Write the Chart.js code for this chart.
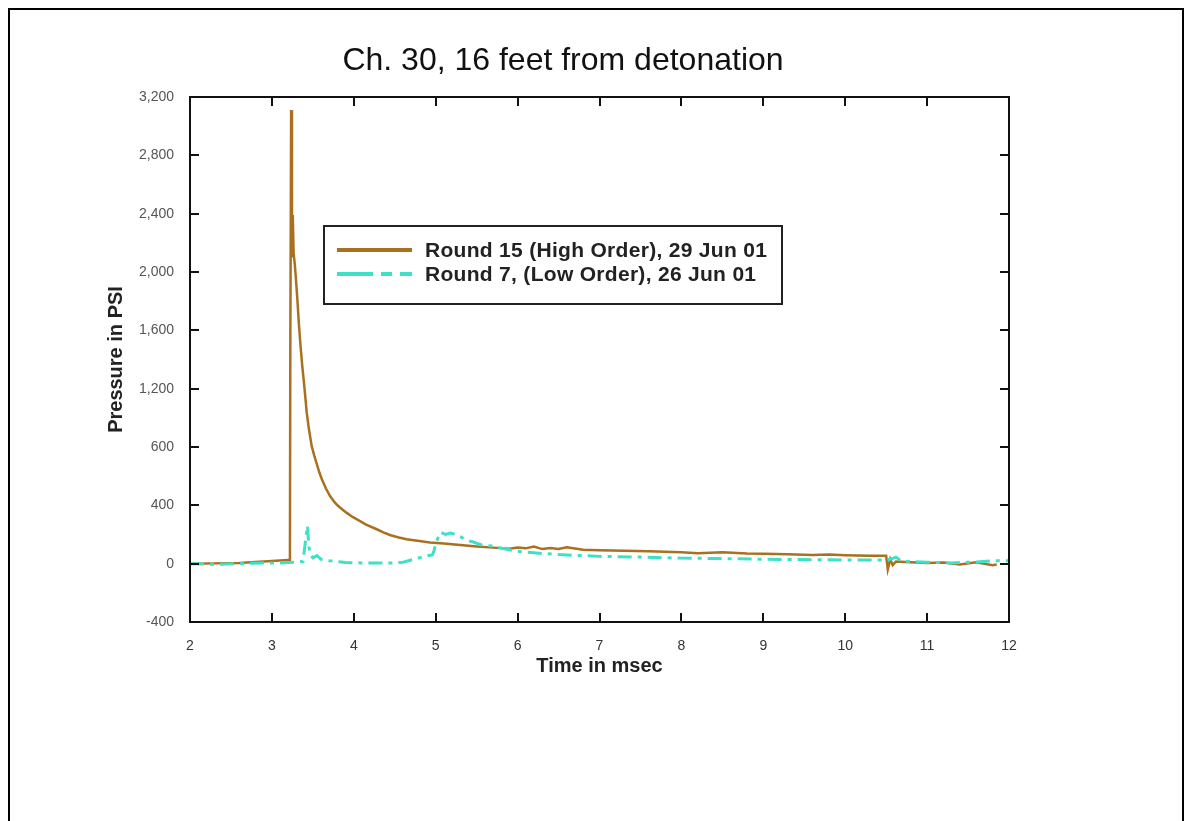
<!DOCTYPE html>
<html lang="en">

<head>
    <meta charset="UTF-8">
    <title>Ch. 30, 16 feet from detonation</title>
    <style>
        body { margin: 0; background: #fff; font-family: "Liberation Sans", Arial, sans-serif; }
        #page { position: relative; width: 1203px; height: 821px; overflow: hidden; }
        #frame { position: absolute; left: 8px; top: 8px; width: 1172px; height: 830px; border: 2px solid #000; border-bottom: none; }
        #title { position: absolute; left: 263px; width: 600px; top: 41px; text-align: center; font-size: 32px; color: #111; }
        #legend { position: absolute; left: 323px; top: 225px; width: 456px; height: 76px; border: 2px solid #222; background: #fff; }
        .row { position: absolute; left: 12px; height: 22px; font-size: 21px; font-weight: bold; color: #222; letter-spacing: 0.3px; }
        .row span.txt { position: absolute; left: 88px; top: 0; white-space: nowrap; line-height: 22px; }
        .seg { position: absolute; top: 9px; height: 4px; }
        canvas { position: absolute; left: 0; top: 0; }
    </style>
</head>

<body>
    <div id="page">
        <canvas id="myChart01" width="1203" height="821"></canvas>
        <div id="frame"></div>
        <div id="title">Ch. 30, 16 feet from detonation</div>
        <div id="legend">
            <div class="row" style="top:12px">
                <div class="seg" style="left:0;width:75px;background:#a8701f"></div>
                <span class="txt">Round 15 (High Order), 29 Jun 01</span>
            </div>
            <div class="row" style="top:36px">
                <div class="seg" style="left:0;width:36px;background:#3fe0c8"></div>
                <div class="seg" style="left:44px;width:11px;background:#3fe0c8"></div>
                <div class="seg" style="left:63px;width:12px;background:#3fe0c8"></div>
                <span class="txt">Round 7, (Low Order), 26 Jun 01</span>
            </div>
        </div>
    </div>
    <script src="https://cdn.jsdelivr.net/npm/chart.js"></script>
    <script>
        // 資料 (讀圖估計)
        var highTime = [2.0, 2.3, 2.6, 2.8, 3.0, 3.1, 3.2, 3.22, 3.225, 3.235, 3.245, 3.255, 3.265, 3.28, 3.294, 3.31, 3.33, 3.35, 3.37, 3.39, 3.41, 3.425, 3.45, 3.486, 3.52, 3.55, 3.58, 3.61, 3.66, 3.71, 3.76, 3.8, 3.86, 3.91, 3.98, 4.05, 4.15, 4.28, 4.36, 4.45, 4.55, 4.645, 4.8, 4.93, 5.1, 5.3, 5.5, 5.7, 5.9, 6.0, 6.1, 6.2, 6.3, 6.4, 6.5, 6.6, 6.8, 7.0, 7.3, 7.6, 7.9, 8.0, 8.2, 8.5, 8.8, 9.0, 9.3, 9.6, 9.8, 10.0, 10.3, 10.5, 10.52, 10.55, 10.58, 10.62, 10.8, 11.0, 11.2, 11.4, 11.6, 11.7, 11.8, 11.85];
        var highPsi = [0, 2, 5, 12, 18, 22, 25, 25, 1500, 3110, 2100, 2390, 2130, 2050, 1947, 1820, 1640, 1491, 1360, 1250, 1130, 1037, 930, 806, 735, 680, 625, 578, 515, 464, 425, 400, 372, 350, 322, 300, 268, 236, 215, 195, 180, 168, 155, 145, 138, 128, 118, 110, 103, 110, 105, 118, 100, 108, 100, 112, 95, 92, 88, 85, 80, 78, 72, 78, 70, 68, 65, 60, 62, 58, 55, 55, -40, 30, -10, 15, 10, 5, 8, -5, 10, 0, -10, -5];
        var lowTime = [2.0, 2.3, 2.6, 2.9, 3.1, 3.2, 3.3, 3.38, 3.42, 3.435, 3.45, 3.47, 3.5, 3.55, 3.6, 3.7, 3.9, 4.1, 4.3, 4.5, 4.6, 4.7, 4.8, 4.9, 4.96, 4.98, 5.0, 5.03, 5.06, 5.12, 5.18, 5.25, 5.3, 5.38, 5.45, 5.55, 5.7, 5.85, 6.0, 6.3, 6.6, 7.0, 7.5, 8.0, 8.5, 9.0, 9.5, 10.0, 10.5, 10.55, 10.62, 10.68, 10.8, 11.0, 11.3, 11.6, 11.8, 12.0];
        var lowPsi = [0, -5, 0, 5, 5, 8, 10, 15, 200, 260, 120, 60, 40, 55, 30, 20, 8, 5, 5, 5, 10, 25, 40, 55, 60, 90, 140, 180, 215, 200, 210, 200, 185, 160, 150, 130, 120, 100, 85, 70, 60, 50, 45, 38, 35, 30, 28, 25, 25, 30, 45, 20, 15, 10, 5, 12, 20, 20];
        var xTicks = [2, 3, 4, 5, 6, 7, 8, 9, 10, 11, 12];
        var yTicks = [-400, 0, 400, 800, 1200, 1600, 2000, 2400, 2800, 3200];
        var yTickLabels = ['-400', '0', '400', '600', '1,200', '1,600', '2,000', '2,400', '2,800', '3,200'];

        function toPoints(xs, ys) {
            return xs.map(function (x, i) { return { x: x, y: ys[i] }; });
        }

        // 外框 + 向內的刻度
        var framePlugin = {
            id: 'frameTicks',
            afterDraw: function (chart) {
                var c = chart.ctx, a = chart.chartArea;
                var sx = chart.scales.x, sy = chart.scales.y;
                var len = 9;
                c.save();
                c.strokeStyle = '#111';
                c.lineWidth = 2;
                c.strokeRect(a.left, a.top, a.right - a.left, a.bottom - a.top);
                c.beginPath();
                xTicks.forEach(function (v) {
                    var px = Math.round(sx.getPixelForValue(v));
                    c.moveTo(px, a.bottom); c.lineTo(px, a.bottom - len);
                    c.moveTo(px, a.top); c.lineTo(px, a.top + len);
                });
                yTicks.forEach(function (v) {
                    var py = Math.round(sy.getPixelForValue(v));
                    c.moveTo(a.left, py); c.lineTo(a.left + len, py);
                    c.moveTo(a.right, py); c.lineTo(a.right - len, py);
                });
                c.stroke();
                c.restore();
            }
        };

        var ctx01 = document.getElementById('myChart01');
        var chart01 = new Chart(ctx01, {
            type: 'scatter',
            data: {
                datasets: [{
                    label: 'Round 15 (High Order), 29 Jun 01',
                    data: toPoints(highTime, highPsi),
                    showLine: true,
                    borderColor: '#a8701f',
                    borderWidth: 2.5,
                    pointRadius: 0,
                    tension: 0,
                    order: 1
                }, {
                    label: 'Round 7, (Low Order), 26 Jun 01',
                    data: toPoints(lowTime, lowPsi),
                    showLine: true,
                    borderColor: '#3fe0c8',
                    borderWidth: 3,
                    borderDash: [14, 6, 4, 6],
                    pointRadius: 0,
                    tension: 0,
                    order: 0
                }]
            },
            options: {
                responsive: false,
                animation: false,
                layout: { padding: { left: 100, right: 194, top: 97, bottom: 139 } },
                plugins: {
                    legend: { display: false },
                    tooltip: { enabled: false }
                },
                scales: {
                    x: {
                        type: 'linear',
                        min: 2, max: 12,
                        afterFit: function (s) { s.height = 60; },
                        afterBuildTicks: function (s) { s.ticks = xTicks.map(function (v) { return { value: v }; }); },
                        grid: { display: false },
                        border: { display: false },
                        ticks: { padding: 8, color: '#333', font: { family: 'Liberation Sans', size: 14 } },
                        title: { display: true, text: 'Time in msec', color: '#222', padding: { top: 2 }, font: { family: 'Liberation Sans', size: 20, weight: 'bold' } }
                    },
                    y: {
                        min: -400, max: 3200,
                        afterFit: function (s) { s.width = 90; },
                        afterBuildTicks: function (s) { s.ticks = yTicks.map(function (v) { return { value: v }; }); },
                        grid: { display: false },
                        border: { display: false },
                        ticks: {
                            padding: 8, color: '#555', font: { family: 'Liberation Sans', size: 14 },
                            callback: function (v) { var i = yTicks.indexOf(v); return i >= 0 ? yTickLabels[i] : ''; }
                        },
                        title: { display: true, text: 'Pressure in PSI', color: '#222', padding: { bottom: 0 }, font: { family: 'Liberation Sans', size: 20, weight: 'bold' } }
                    }
                }
            },
            plugins: [framePlugin]
        });
    </script>
</body>

</html>
